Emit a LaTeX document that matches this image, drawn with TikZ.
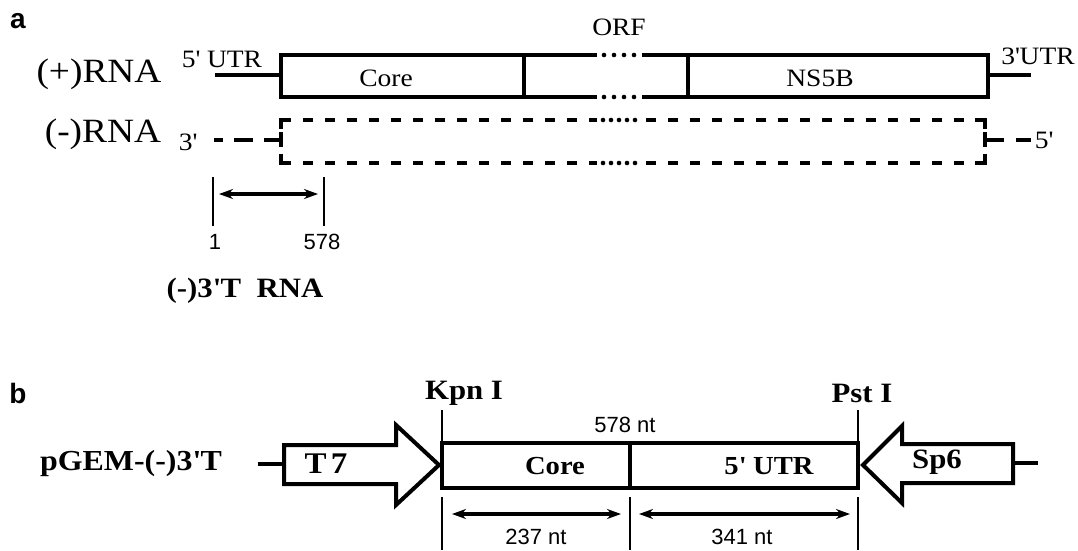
\documentclass[tikz,border=0pt]{standalone}
\usepackage{fontspec}
\setmainfont{Liberation Serif}[FakeStretch=1.1]
\newfontfamily\arialfont{Liberation Sans}
\usetikzlibrary{arrows.meta, positioning, calc}
\newcommand{\apos}{\textquotesingle}

\begin{document}
\begin{tikzpicture}[
			x=1pt, y=-1pt,
			every node/.style={inner sep=0pt},
			thickline/.style={line width=4.5pt},
			thinline/.style={line width=2.6pt},
			dashline/.style={line width=4.5pt, dash pattern=on 10pt off 12pt},
			rnalabel/.style={font=\fontsize{34}{38}\selectfont},
			smalllabel/.style={font=\fontsize{25}{28}\selectfont},
			boldlabel/.style={font=\fontsize{28}{32}\selectfont\bfseries},
			numlabel/.style={font=\arialfont\fontsize{22}{24}\selectfont},
			panellabel/.style={font=\arialfont\bfseries\fontsize{28}{30}\selectfont},
			promoter/.style={line width=4pt, fill=white, line join=miter},
			sizearrow/.style={line width=3.5pt, {Stealth[length=14pt,width=10pt]}-{Stealth[length=14pt,width=10pt]}}
			]
			\useasboundingbox (0,0) rectangle (1078,550);
			
			\node[panellabel] (a) at (18,21) {a};
			\node[rnalabel] (plus) at (99,74) {(+)RNA};
			\node[rnalabel] (minus) at (103,134) {(-)RNA};
			\node[smalllabel] (utr5) at (222,59) {5\apos{} UTR};
			\node[smalllabel] (orf) at (619,27) {ORF};
			\node[smalllabel] (utr3) at (1038,56) {3\apos UTR};
			\node[smalllabel] (core) at (386,78) {Core};
			\node[smalllabel] (ns5b) at (820,78) {NS5B};
			\node[smalllabel] (end3) at (188,142) {3\apos};
			\node[smalllabel] (end5) at (1044,140) {5\apos};
			
			\coordinate (boxW) at (281,75);
			\coordinate (boxE) at (988,75);
			\draw[thickline] (597,55) -- (281,55) -- (281,97) -- (597,97);
			\draw[thickline] (642,55) -- (988,55) -- (988,97) -- (642,97);
			\draw[thickline] (524,55) -- (524,97);
			\draw[thickline] (688,55) -- (688,97);
			\draw[thickline] (215,75) -- (boxW);
			\draw[thickline] (boxE) -- (1031,75);
			\foreach \x in {604,614,624,634} {
				\fill (\x,55) circle[radius=2.3pt];
				\fill (\x,97) circle[radius=2.3pt];
			}
			
			\draw[dashline] (281,120) -- (597,120);
			\draw[dashline] (281,163) -- (597,163);
			\draw[dashline] (646,120) -- (985,120);
			\draw[dashline] (646,163) -- (985,163);
			\foreach \x in {603,611,619,627,635} {
				\fill (\x,120) circle[radius=2.3pt];
				\fill (\x,163) circle[radius=2.3pt];
			}
			\draw[thickline] (291,120) -- (281,120) -- (281,129);
			\draw[thickline] (281,154) -- (281,163) -- (291,163);
			\draw[thickline] (975,120) -- (985,120) -- (985,129);
			\draw[thickline] (985,154) -- (985,163) -- (975,163);
			\draw[thickline] (281,132) -- (281,147);
			\draw[thickline] (985,132) -- (985,147);
			\draw[dashline, dash pattern=on 19pt off 11pt] (283,140) -- (214,140);
			\draw[dashline, dash pattern=on 19pt off 12pt] (985,140) -- (1031,140);
			
			\node[numlabel] (one) at (215,242) {1};
			\node[numlabel] (pos578) at (322,242) {578};
			\draw[thinline] (213,177) -- (213,226);
			\draw[thinline] (324,177) -- (324,226);
			\draw[sizearrow] (219,194) -- (318,194);
			\node[boldlabel] (minus3t) at (245,291) {(-)3\apos T\ \ RNA};
			
			\node[panellabel] (b) at (18,393) {b};
			\node[boldlabel] (kpn) at (464,393) {Kpn I};
			\node[boldlabel] (pst) at (862,393) {Pst I};
			\node[numlabel] (len) at (625,425) {578 nt};
			\node[boldlabel, font=\fontsize{29}{32}\selectfont\bfseries] (pgem) at (131,464) {pGEM-(-)3\apos T};
			
			\draw[thickline] (442,443) rectangle (858,488);
			\draw[thickline] (630,443) -- (630,488);
			\draw[thinline] (442,410) -- (442,443);
			\draw[thinline] (858,410) -- (858,443);
			\node[boldlabel, font=\fontsize{26}{30}\selectfont\bfseries] (coreb) at (555,466) {Core};
			\node[boldlabel, font=\fontsize{26}{30}\selectfont\bfseries] (utrb) at (769,466) {5\apos{} UTR};
			
			\draw[thickline] (258,464) -- (284,464);
			\draw[promoter] (284,445) -- (396,445) -- (396,425) -- (439,465) -- (396,505) -- (396,484) -- (284,484) -- cycle;
			\node[boldlabel, font=\fontsize{30}{32}\selectfont\bfseries] (t7) at (326,464) {T\kern4pt 7};
			\draw[thickline] (1013,463) -- (1038,463);
			\draw[promoter] (1013,444) -- (902,444) -- (902,426) -- (863,465) -- (902,503) -- (902,483) -- (1013,483) -- cycle;
			\node[boldlabel] (sp6) at (937,462) {Sp6};
			
			\draw[thinline] (442,497) -- (442,550);
			\draw[thinline] (630,497) -- (630,550);
			\draw[thinline] (858,497) -- (858,550);
			\draw[sizearrow] (452,514) -- (621,514);
			\draw[sizearrow] (639,514) -- (850,514);
			\node[numlabel] (n237) at (536,537) {237 nt};
			\node[numlabel] (n341) at (742,537) {341 nt};
		\end{tikzpicture}
\end{document}
